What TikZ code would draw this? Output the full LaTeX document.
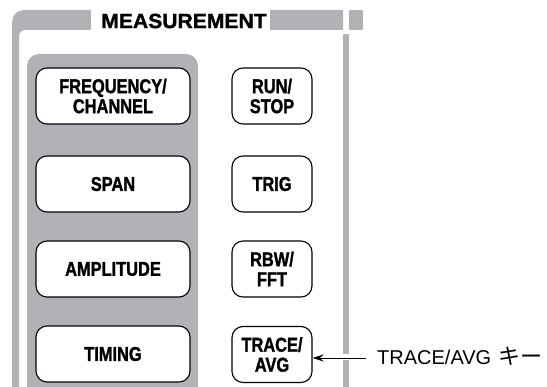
\documentclass[tikz,border=0pt]{standalone}
\usepackage{fontspec}
\setmainfont{Liberation Sans}
\newfontfamily\btnfont{Liberation Sans}[FakeStretch=0.82,FakeBold=1.4]
\newfontfamily\titlefont{Liberation Sans}[FakeStretch=1.03,FakeBold=1.4]
\newfontfamily\cjkfont{Noto Sans CJK JP}
\usetikzlibrary{arrows.meta}
\definecolor{panelgray}{RGB}{177,178,182}
\tikzset{
  btnbox/.style={draw=black, line width=1.1pt, fill=white, rounded corners=11pt,
    minimum height=56pt, align=center, inner sep=0pt,
    font=\btnfont\bfseries\fontsize{20}{20}\selectfont},
  widebtn/.style={btnbox, minimum width=154pt},
  narrowbtn/.style={btnbox, minimum width=80pt},
  pointer/.style={line width=0.9pt, -{Stealth[length=11pt,width=7pt]}}
}
\begin{document}
\begin{tikzpicture}[x=1pt,y=-1pt]
\useasboundingbox (0,0) rectangle (547,387);
\clip (0,0) rectangle (547,387);
% outer frame
\fill[panelgray] (12,400) [rounded corners=12pt] -- (12,10) [sharp corners] -- (343,10) -- (343,30)
  [rounded corners=6pt] -- (19,30) [sharp corners] -- (19,400) -- cycle;
\fill[white] (91,8) rectangle (270,32);
\fill[panelgray] (349,10) rectangle (363,30);
\fill[panelgray] (343,34) rectangle (349,354);
\fill[panelgray] (343,360) rectangle (349,400);
\node[font=\titlefont\bfseries\fontsize{20.5}{20.5}\selectfont, inner sep=0pt] (title) at (184,21) {MEASUREMENT};
% inner panel
\fill[panelgray, rounded corners=12pt] (27,54) rectangle (198,420);
% buttons
\node[widebtn] (freq) at (113,96) {FREQUENCY/\\CHANNEL};
\node[widebtn] (span) at (113,184) {SPAN};
\node[widebtn] (ampl) at (113,269) {AMPLITUDE};
\node[widebtn] (timing) at (113,354) {TIMING};
\node[narrowbtn] (run) at (272,96) {RUN/\\STOP};
\node[narrowbtn] (trig) at (272,184) {TRIG};
\node[narrowbtn] (rbw) at (272,269) {RBW/\\FFT};
\node[narrowbtn] (trace) at (272,354.5) {TRACE/\\AVG};
% label and arrow
\node[anchor=base west, inner sep=0pt, font=\fontsize{20}{20}\selectfont] (lab) at (377,365)
  {TRACE/AVG\hspace{7pt}{\cjkfont\fontsize{22}{22}\selectfont キー}};
\coordinate (arrowstart) at (366,358);
\draw[pointer] (arrowstart) -- (arrowstart -| trace.east);
\end{tikzpicture}
\end{document}
